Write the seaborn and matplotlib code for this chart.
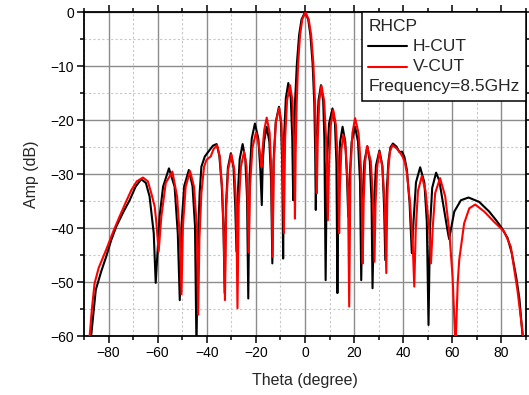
import matplotlib
matplotlib.use("Agg")
import matplotlib.pyplot as plt
import seaborn as sns
import pandas as pd
from matplotlib.ticker import MultipleLocator
from matplotlib.offsetbox import AnchoredOffsetbox, TextArea, DrawingArea, HPacker, VPacker
from matplotlib.lines import Line2D

# ---------------- data ----------------
theta_h = [-87.1, -85.2, -83.0, -81.0, -79.0, -76.9, -74.0, -71.4, -69.0, -66.7, -64.8, -63.3, -61.6, -60.8,
           -59.2, -57.8, -55.4, -53.1, -51.8, -51.0,
           -50.3, -49.2, -47.3, -45.8, -44.8, -44.2,
           -43.6, -42.9, -42.2, -40.8, -39.0, -37.5, -36.0, -34.9, -33.9, -33.2, -32.7,
           -32.2, -31.4, -30.2, -29.1, -28.4, -27.9,
           -27.4, -26.6, -25.4, -24.3, -23.6, -23.1,
           -22.6, -21.7, -20.4, -19.0, -18.2, -17.6,
           -17.2, -16.6, -15.6, -14.5, -13.8, -13.3,
           -12.8, -11.9, -10.6, -9.8, -9.3, -8.9,
           -8.5, -7.8, -6.8, -5.8, -5.2, -4.8,
           -4.5, -4.1, -3.3, -2.4, -1.4, 0.0, 1.3, 2.2, 3.1, 3.8, 4.15, 4.4,
           4.8, 5.5, 6.5, 7.4, 7.9, 8.4,
           8.9, 9.8, 11.2, 12.2, 12.8, 13.2,
           13.6, 14.3, 15.3, 16.4, 17.1, 17.6,
           18.2, 19.0, 20.4, 21.6, 22.4, 22.9,
           23.4, 24.2, 25.4, 26.4, 27.1, 27.5,
           28.1, 28.9, 30.3, 31.5, 32.2, 32.7,
           33.3, 34.0, 34.8, 35.8, 37.3, 38.5, 39.5, 40.5, 41.5, 42.6, 43.5,
           44.2, 45.2, 46.9, 48.6, 49.6, 50.3,
           50.9, 51.8, 53.4, 54.7, 56.0, 58.0, 58.7,
           59.5, 60.8, 63.5, 66.6, 70.9, 75.0, 78.0, 80.2, 82.5, 84.2, 86.0, 87.3, 88.6, 89.2]
amp_h = [-60.0, -51.4, -48.0, -45.3, -42.3, -39.7, -37.0, -34.8, -32.3, -30.9, -31.6, -34.1, -40.9, -50.1,
         -37.8, -32.3, -28.9, -32.3, -41.0, -53.3,
         -39.5, -32.2, -29.2, -32.2, -39.5, -62.0,
         -42.0, -33.5, -28.6, -26.7, -25.6, -24.7, -24.4, -26.5, -32.0, -40.0, -52.0,
         -36.0, -28.8, -26.1, -28.8, -36.0, -44.3,
         -34.0, -27.2, -24.4, -27.2, -34.4, -53.0,
         -30.6, -23.4, -20.6, -23.4, -29.0, -35.7,
         -27.5, -23.8, -21.2, -24.0, -31.2, -46.5,
         -27.5, -20.3, -17.5, -20.3, -27.5, -45.6,
         -23.0, -15.9, -13.1, -15.9, -23.0, -34.8,
         -26.0, -17.0, -9.5, -4.2, -1.3, 0.0, -1.3, -4.2, -9.5, -17.0, -26.0, -36.6,
         -23.5, -16.3, -13.5, -16.3, -23.5, -49.6,
         -28.0, -20.6, -17.8, -20.6, -28.0, -52.0,
         -31.4, -24.0, -21.2, -24.0, -30.5, -37.8,
         -30.5, -24.0, -21.2, -24.0, -31.4, -49.6,
         -35.0, -27.6, -24.8, -27.6, -35.0, -51.1,
         -35.8, -28.4, -25.6, -28.4, -35.8, -45.9,
         -33.0, -27.5, -25.0, -24.3, -24.9, -25.9, -25.8, -26.8, -29.2, -35.4, -44.6,
         -38.7, -31.5, -28.7, -31.5, -38.7, -57.9,
         -40.0, -32.5, -29.7, -31.2, -34.8, -40.3, -42.0,
         -40.0, -36.9, -34.8, -34.3, -35.1, -36.9, -38.6, -40.0, -41.8, -44.6, -49.0, -53.0, -60.0, -63.0]

theta_v = [-87.7, -86.8, -85.7, -84.0, -81.0, -78.0, -75.5, -73.0, -70.7, -68.5, -66.0, -64.0, -62.6, -61.2, -60.5, -59.6,
           -58.5, -56.7, -54.0, -52.1, -51.0, -50.3,
           -49.7, -48.6, -46.8, -45.2, -44.1, -43.5,
           -43.0, -42.2, -41.1, -40.1, -38.4, -37.2, -35.8, -34.7, -33.7, -33.1, -32.6,
           -32.1, -31.3, -30.0, -28.8, -28.0, -27.5,
           -27.0, -26.1, -24.8, -23.8, -23.3, -22.9,
           -22.4, -21.4, -20.0, -18.8, -18.1, -17.7,
           -17.3, -16.6, -15.6, -14.4, -13.7, -13.2,
           -12.7, -11.9, -10.6, -9.6, -9.1, -8.6,
           -8.1, -7.3, -6.1, -5.1, -4.5, -4.1,
           -3.8, -3.4, -2.8, -2.0, -1.1, 0.2, 1.5, 2.5, 3.4, 4.1, 4.5, 4.8,
           5.2, 5.8, 6.7, 7.8, 8.6, 9.3,
           9.8, 10.5, 11.5, 12.6, 13.4, 13.9,
           14.2, 14.8, 15.6, 16.6, 17.5, 18.0,
           18.5, 19.3, 20.4, 21.8, 22.9, 23.5,
           23.9, 24.5, 25.3, 26.8, 27.7, 28.3,
           28.7, 29.4, 30.3, 31.5, 32.5, 33.1,
           33.5, 33.9, 34.6, 35.6, 37.3, 38.9, 39.8, 40.7, 41.5, 42.8, 43.9, 44.5,
           45.1, 46.0, 47.6, 49.1, 50.6, 51.3,
           52.0, 53.0, 55.0, 57.1, 58.7, 60.1, 61.3,
           62.2, 62.8, 64.8, 66.9, 69.3, 73.0, 77.0, 81.1, 83.8, 86.5, 88.8, 89.1]
amp_v = [-60.0, -55.0, -50.2, -47.3, -44.0, -40.5, -37.8, -35.2, -32.9, -31.3, -30.6, -31.3, -33.5, -36.0, -39.1, -44.3,
         -37.8, -31.6, -29.5, -34.1, -41.5, -52.2,
         -39.5, -32.3, -29.4, -32.3, -39.5, -56.0,
         -42.0, -33.5, -28.6, -27.3, -26.7, -25.3, -24.6, -26.7, -33.0, -41.0, -53.3,
         -36.3, -29.1, -26.3, -29.1, -36.3, -54.8,
         -35.8, -28.6, -25.8, -28.6, -35.8, -44.5,
         -32.3, -25.1, -22.3, -24.5, -27.0, -28.6,
         -25.5, -21.8, -19.5, -22.3, -29.5, -45.3,
         -27.7, -20.5, -17.7, -20.5, -27.7, -40.9,
         -23.5, -16.3, -13.5, -16.3, -23.5, -38.2,
         -26.0, -17.0, -9.5, -4.2, -1.3, 0.0, -1.3, -4.2, -9.5, -17.0, -26.0, -33.5,
         -23.6, -16.4, -13.6, -16.4, -23.6, -38.5,
         -28.1, -20.9, -18.1, -20.9, -28.1, -40.9,
         -32.7, -25.5, -22.7, -25.5, -32.7, -54.5,
         -29.6, -22.4, -19.6, -22.4, -29.6, -46.5,
         -34.8, -27.6, -24.8, -27.6, -34.8, -46.2,
         -35.8, -28.6, -25.8, -28.6, -35.8, -48.3,
         -35.0, -29.2, -25.8, -24.6, -25.2, -26.1, -26.8, -27.8, -29.8, -35.4, -43.4, -50.8,
         -40.3, -33.1, -30.3, -33.1, -40.3, -46.5,
         -40.0, -33.5, -30.7, -34.1, -40.3, -49.0, -62.0,
         -50.0, -45.9, -39.1, -36.3, -35.6, -36.9, -38.8, -40.6, -43.4, -51.4, -60.0, -62.0]

series_names = ["H-CUT", "V-CUT"]
series_colors = ["#000000", "#ff0000"]
x_ticks = [-80, -60, -40, -20, 0, 20, 40, 60, 80]
y_ticks = [0, -10, -20, -30, -40, -50, -60]
legend_title = "RHCP"
freq_note = "Frequency=8.5GHz"

# ---------------- figure ----------------
sns.set_style("ticks")
plt.rcParams["font.family"] = ["Liberation Sans", "DejaVu Sans"]

fig = plt.figure(figsize=(5.29, 3.95), dpi=100)
fig.subplots_adjust(left=84 / 529, right=526 / 529, bottom=1 - 336.3 / 395, top=1 - 12.3 / 395)
ax = fig.add_subplot(111)

df = pd.concat([
    pd.DataFrame({"theta": theta_h, "amp": amp_h, "cut": series_names[0]}),
    pd.DataFrame({"theta": theta_v, "amp": amp_v, "cut": series_names[1]}),
])
sns.lineplot(data=df, x="theta", y="amp", hue="cut", palette=series_colors,
             estimator=None, sort=False, linewidth=1.5, legend=False, ax=ax, zorder=3)
for ln in ax.get_lines():
    ln.set_solid_joinstyle("round")

ax.set_xlim(-90, 90)
ax.set_ylim(-60, 0)
ax.set_xticks(x_ticks)
ax.set_yticks(y_ticks)
ax.xaxis.set_minor_locator(MultipleLocator(10))
ax.yaxis.set_minor_locator(MultipleLocator(5))

ax.grid(which="major", color="#8c8c8c", linewidth=1.0, linestyle="-", zorder=0)
ax.grid(which="minor", color="#c8c8c8", linewidth=0.8, linestyle=(0, (2, 2)), zorder=0)
ax.set_axisbelow(True)

for s in ax.spines.values():
    s.set_visible(True)
    s.set_linewidth(1.3)
    s.set_color("black")

ax.tick_params(which="both", direction="out", top=True, right=True, colors="black",
               labelsize=10, width=1.1)
ax.tick_params(which="major", length=5, pad=2)
ax.tick_params(which="minor", length=3)

ax.set_xlabel("Theta (degree)", fontsize=11.5, labelpad=9)
ax.set_ylabel("Amp (dB)", fontsize=11.5, labelpad=8)

# legend box
def key(color):
    da = DrawingArea(28, 10, 0, 0)
    da.add_artist(Line2D([0, 28], [5, 5], color=color, linewidth=1.5))
    return da

fs = 12.5
rows = [TextArea(legend_title, textprops=dict(fontsize=fs))]
for name, col in zip(series_names, series_colors):
    rows.append(HPacker(children=[key(col), TextArea(name, textprops=dict(fontsize=fs))],
                        align="center", pad=0, sep=4))
rows.append(TextArea(freq_note, textprops=dict(fontsize=fs)))
box = VPacker(children=rows, align="left", pad=0, sep=3.8)
anch = AnchoredOffsetbox(loc="upper right", child=box, pad=0.45, borderpad=0.0,
                         frameon=True, bbox_to_anchor=(1, 1), bbox_transform=ax.transAxes)
anch.patch.set_edgecolor("black")
anch.patch.set_linewidth(1.1)
anch.patch.set_boxstyle("square", pad=0)
anch.zorder = 5
ax.add_artist(anch)

fig.savefig("out.png", dpi=100)
